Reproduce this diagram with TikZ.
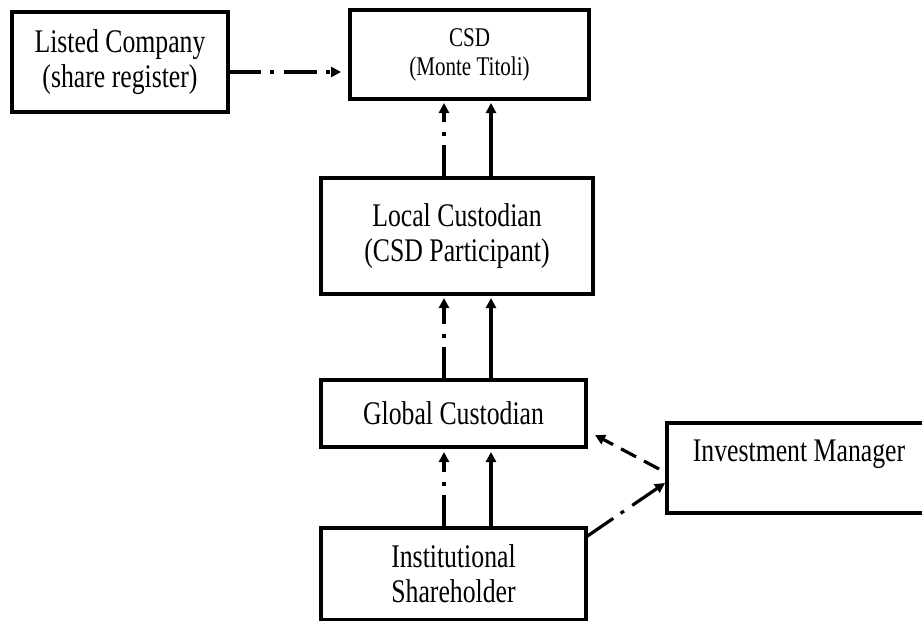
\documentclass[tikz,border=0pt]{standalone}
\usepackage{fontspec}
\setmainfont{Liberation Serif}[FakeStretch=0.78]
\usetikzlibrary{arrows.meta,calc}

\begin{document}
\begin{tikzpicture}[x=1pt,y=-1pt,
  box/.style={draw, line width=3.3pt, rectangle, inner sep=0pt, outer sep=0pt,
    align=center, font=\fontsize{33}{35}\selectfont},
  tip/.style={-{Triangle[length=10pt,width=10pt]}},
  flow/.style={tip, line width=3.2pt},
  dashdot/.style={flow, dash pattern=on 33pt off 9pt on 4pt off 10pt},
  dashline/.style={flow, dash pattern=on 17pt off 9pt}]

  \useasboundingbox (0,0) rectangle (922,621);
  \clip (0,0) rectangle (922,621);

  % boxes
  \node[box, minimum width=216pt, minimum height=100pt] (listed) at (120,62)
    {Listed Company\\(share register)};
  \node[box, minimum width=239pt, minimum height=89pt,
    font=\fontsize{27}{29}\selectfont] (csd) at (469.5,54.5)
    {CSD\\(Monte Titoli)};
  \node[box, minimum width=272pt, minimum height=116pt] (local) at (457,236)
    {Local Custodian\\(CSD Participant)};
  \node[box, minimum width=265pt, minimum height=67pt] (global) at (453.5,413.5)
    {Global Custodian};
  \node[box, minimum width=265pt, minimum height=92pt] (inst) at (453.5,574)
    {Institutional\\Shareholder};
  \node[box, minimum width=264pt, minimum height=90pt] (invest) at (799,468)
    {Investment Manager\\\mbox{}};

  % reference lines for the connector columns and row
  \coordinate (colA) at (444,0);
  \coordinate (colB) at (491,0);
  \coordinate (rowA) at (0,72);

  % listed company to CSD
  \draw[dashdot, shorten >=9pt] (listed.east |- rowA) -- (csd.west |- rowA);

  % chain of custody
  \draw[dashdot, shorten >=4pt] (local.north -| colA) -- (csd.south -| colA);
  \draw[flow, shorten >=4pt] (local.north -| colB) -- (csd.south -| colB);
  \draw[dashdot, shorten >=4pt] (global.north -| colA) -- (local.south -| colA);
  \draw[flow, shorten >=4pt] (global.north -| colB) -- (local.south -| colB);
  \draw[dashdot, shorten >=5pt] (inst.north -| colA) -- (global.south -| colA);
  \draw[flow, shorten >=5pt] (inst.north -| colB) -- (global.south -| colB);

  % investment manager links
  \draw[dashline] ($(invest.west)+(-8,1)$) -- ($(global.south east)+(9,-12)$);
  \draw[dashdot] ($(inst.north east)+(0,9)$) -- ($(invest.west)+(-2,15)$);
\end{tikzpicture}
\end{document}
